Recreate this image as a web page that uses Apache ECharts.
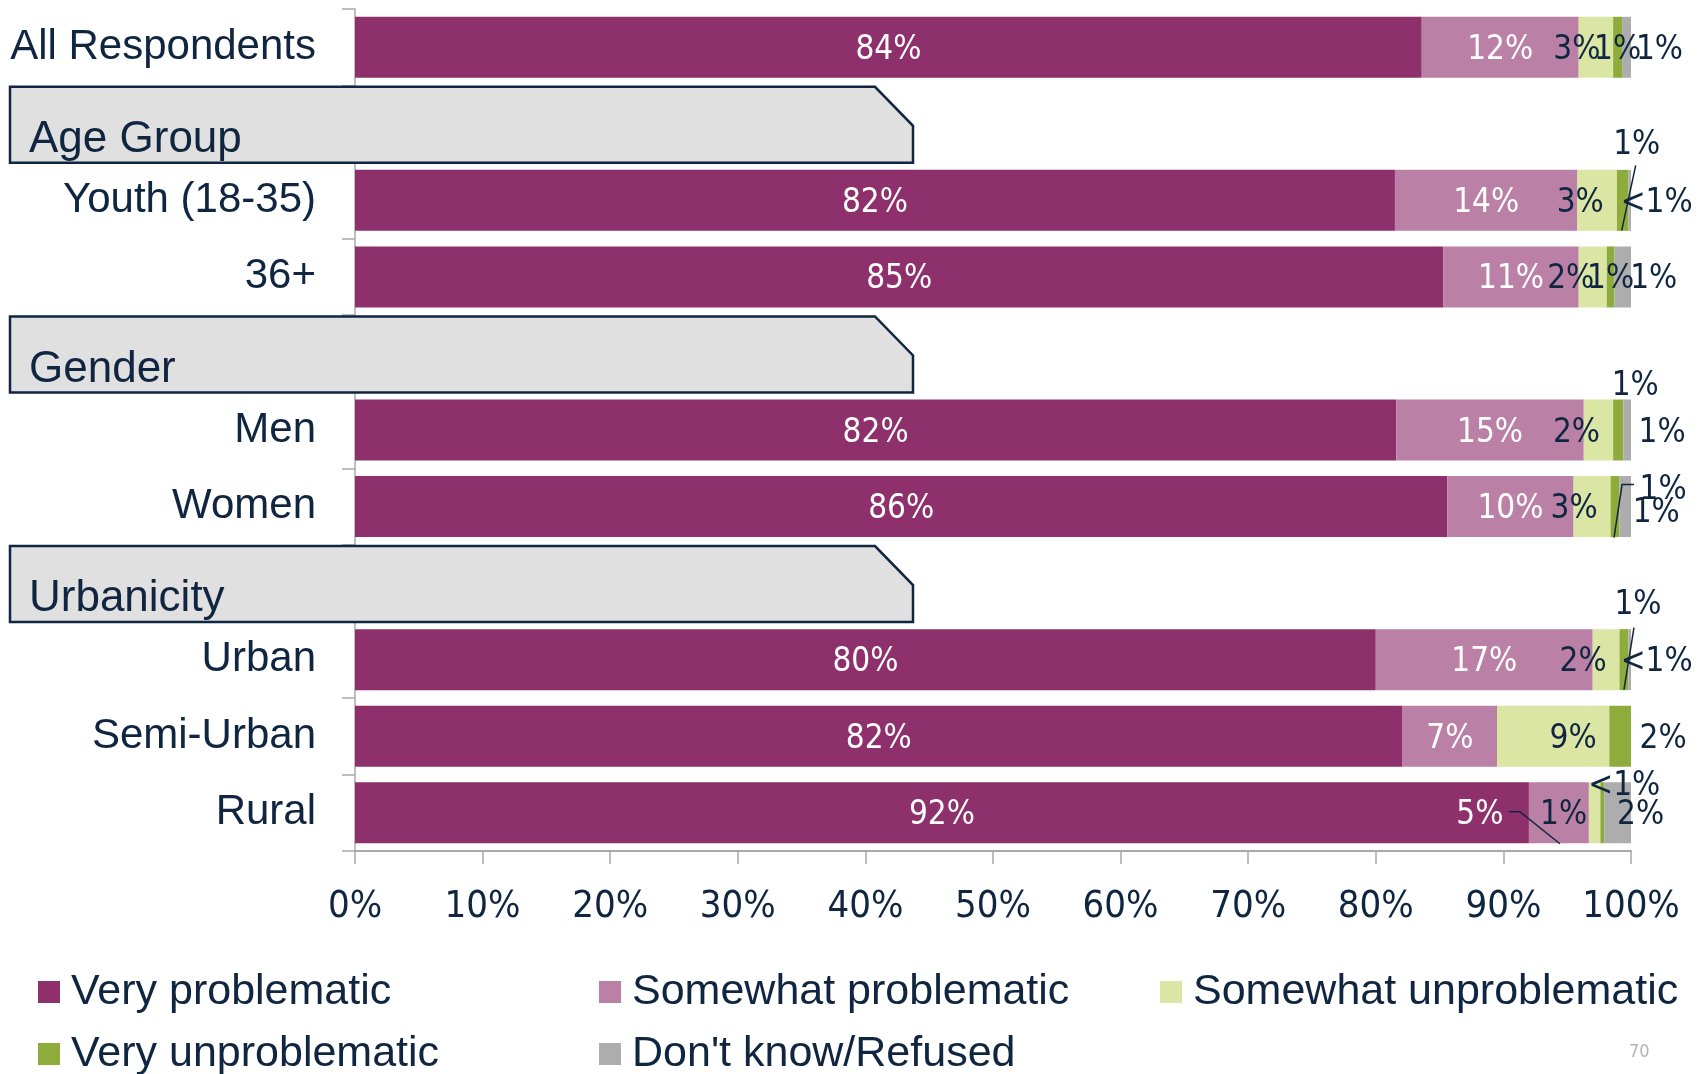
<!DOCTYPE html>
<html><head><meta charset="utf-8">
<script src="https://cdn.jsdelivr.net/npm/echarts@6/dist/echarts.min.js"></script>
<style>html,body{margin:0;padding:0;background:#fff}#c{width:1702px;height:1074px}</style>
</head><body><div id="c"></div>
<script>
// ---------- data ----------
const categories = ['All Respondents','Age Group','Youth (18-35)','36+','Gender','Men','Women','Urbanicity','Urban','Semi-Urban','Rural'];
const headerRows = ['Age Group','Gender','Urbanicity'];
const seriesNames = ['Very problematic','Somewhat problematic','Somewhat unproblematic','Very unproblematic',"Don't know/Refused"];
const veryProblematic       = [83.6, null, 81.5, 85.3, null, 81.6, 85.6, null, 80.0, 82.1, 92.0];
const somewhatProblematic   = [12.3, null, 14.3, 10.6, null, 14.7,  9.9, null, 17.0,  7.4,  4.7];
const somewhatUnproblematic = [ 2.7, null,  3.1,  2.2, null,  2.3,  2.9, null,  2.1,  8.8,  0.9];
const veryUnproblematic     = [ 0.7, null,  0.9,  0.6, null,  0.8,  0.7, null,  0.7,  1.7,  0.3];
const dontKnow              = [ 0.7, null,  0.2,  1.3, null,  0.6,  0.9, null,  0.2,  0.0,  2.1];
const xTickValues = [0,10,20,30,40,50,60,70,80,90,100];
const pageNumber = '70';

// ---------- style / label placement ----------
const NAVY = '#0f2540';
const colors = ['#8e306c','#bb80a6','#dbe6a5','#8eac3b','#adadad'];
const seriesValues = [veryProblematic, somewhatProblematic, somewhatUnproblematic, veryUnproblematic, dontKnow];
const numFont = '"Liberation Sans Narrow","Arial Narrow","DejaVu Sans Condensed","Liberation Sans",sans-serif';
const txtFont = '"Liberation Sans",Arial,sans-serif';
const LABEL_SHIFT = 3;
// [dx, dy] offsets of each label from its segment centre (by series, then row)
const labelOffsets = [
  {},
  {10:[-79,0]},
  {0:[-19,0],2:[-17,0],3:[-22,0],5:[-22,0],6:[-18,0],8:[-23,0],9:[20,0],10:[-31,0]},
  {2:[14,-58],5:[17,-47],6:[48,-19],8:[14,-57],9:[43,0],10:[22,-29]},
  {0:[33,0],2:[27,0],3:[31,0],5:[35,0],6:[31,4],8:[27,0],10:[23,0]}
];
const leaders = [
  {s:3, r:2, pts:[[13,-35],[-1,30]]},
  {s:3, r:6, pts:[[19,-22],[7,-22],[-1,31]]},
  {s:3, r:8, pts:[[10,-32],[0,30]]},
  {s:1, r:10, pts:[[-50,-1],[-39,-1],[1,31]]}
];
function fmt(v){ if(v==null||v===0) return ''; return v<0.5 ? '<1%' : Math.round(v)+'%'; }

const chart = echarts.init(document.getElementById('c'), null, {renderer:'canvas'});
const series = seriesNames.map((name, si) => ({
  name, type:'bar', stack:'total', barWidth:61,
  itemStyle:{color:colors[si]},
  emphasis:{disabled:true},
  label:{show:true, position:'inside', fontFamily:numFont, fontSize:33,
         color: si<2 ? '#ffffff' : NAVY, formatter:p=>fmt(p.value)},
  data: seriesValues[si].map((v, ri) => {
    const o = labelOffsets[si][ri] || [0,0];
    return {value:v, label:{offset:[o[0], o[1]+LABEL_SHIFT]}};
  })
}));

const legendPos = [[38,970],[599,970],[1160,970],[38,1032],[599,1032]];
const legends = seriesNames.map((n,i)=>({
  data:[n], left:legendPos[i][0], top:legendPos[i][1], icon:'rect', itemWidth:22, itemHeight:22,
  selectedMode:false, padding:0,
  textStyle:{fontFamily:txtFont, fontSize:43, color:NAVY, lineHeight:44, padding:[0,0,0,6]}
}));

chart.setOption({
  animation:false,
  backgroundColor:'#ffffff',
  grid:{left:355, right:71, top:9, bottom:223, containLabel:false},
  legend: legends,
  xAxis:{type:'value', min:0, max:100, interval:10,
    axisLine:{show:true, lineStyle:{color:'#a8a8a8', width:2}},
    axisTick:{show:true, length:13, lineStyle:{color:'#a8a8a8', width:1.5}},
    splitLine:{show:false},
    axisLabel:{fontFamily:numFont, fontSize:38, color:NAVY, margin:37,
      formatter:v=> xTickValues.includes(v) ? v+'%' : ''}},
  yAxis:{type:'category', inverse:true, data:categories,
    axisLine:{show:true, lineStyle:{color:'#a8a8a8', width:1.5}},
    axisTick:{show:true, length:13, lineStyle:{color:'#a8a8a8', width:1.5}},
    axisLabel:{fontFamily:txtFont, fontSize:42, color:NAVY, margin:39, padding:[5,0,0,0],
      formatter:v=> headerRows.includes(v) ? '' : v}},
  series
});

// ---------- header boxes, leader lines, page number ----------
const g = [];
headerRows.forEach(h => {
  const yc = chart.convertToPixel({yAxisIndex:0}, h);
  const top = yc - 37, bot = yc + 39;
  g.push({type:'polygon', z:50, shape:{points:[[10,top],[875,top],[913,top+39],[913,bot],[10,bot]]},
    style:{fill:'#e0e0e0', stroke:NAVY, lineWidth:2.5}});
  g.push({type:'text', z:51, x:29, y:yc+16, style:{text:h, fontFamily:txtFont, fontSize:44, fill:NAVY, verticalAlign:'middle', align:'left'}});
});
leaders.forEach(L => {
  let start = 0;
  for (let k=0;k<L.s;k++) start += seriesValues[k][L.r] || 0;
  const mid = start + seriesValues[L.s][L.r]/2;
  const cx = chart.convertToPixel({xAxisIndex:0}, mid);
  const cy = chart.convertToPixel({yAxisIndex:0}, categories[L.r]);
  g.push({type:'polyline', z:60, shape:{points:L.pts.map(p=>[cx+p[0], cy+p[1]])},
    style:{stroke:NAVY, lineWidth:1.5, fill:null}});
});
g.push({type:'text', z:60, x:1629, y:1043, style:{text:pageNumber, fontFamily:numFont, fontSize:18, fill:'#b3b3b3'}});
chart.setOption({graphic:g});
</script>
</body></html>
